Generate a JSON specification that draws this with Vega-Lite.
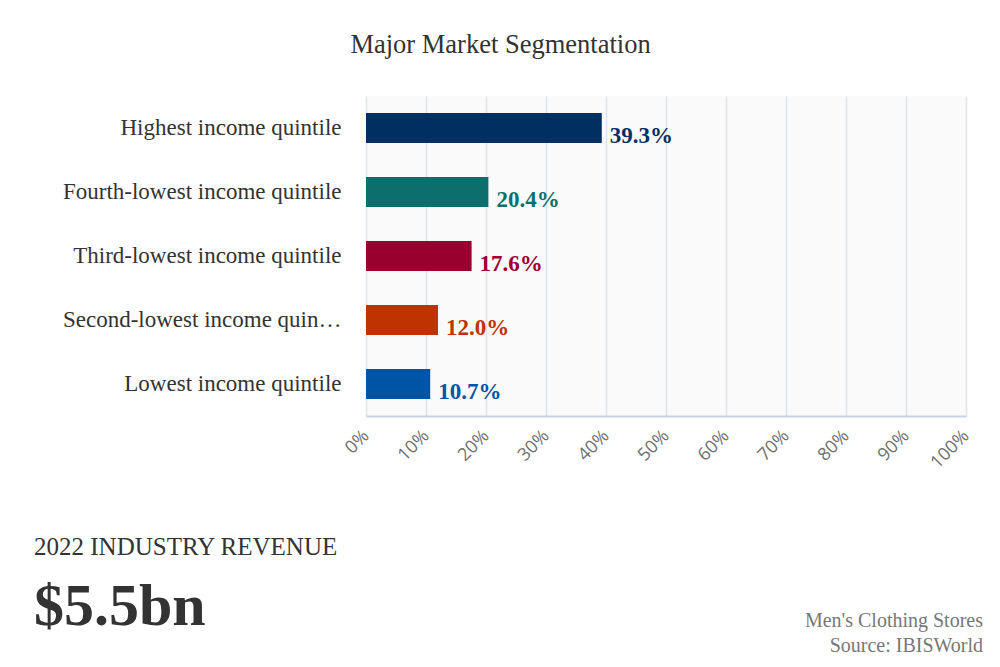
{
  "$schema": "https://vega.github.io/schema/vega-lite/v6.json",
  "background": "white",
  "padding": {"left": 34, "top": 31, "right": 17, "bottom": 10},
  "title": {
    "text": "Major Market Segmentation",
    "anchor": "middle",
    "dx": -8,
    "offset": 38,
    "font": "Liberation Serif",
    "fontSize": 26.5,
    "fontWeight": "normal",
    "color": "#333333"
  },
  "spacing": 63,
  "vconcat": [
    {
      "width": 600,
      "height": 320,
      "view": {"fill": "#fafafa", "stroke": null},
      "data": {
        "values": [
          {"segment": "Highest income quintile", "share": 0.393},
          {"segment": "Fourth-lowest income quintile", "share": 0.204},
          {"segment": "Third-lowest income quintile", "share": 0.176},
          {"segment": "Second-lowest income quintile", "share": 0.12},
          {"segment": "Lowest income quintile", "share": 0.107}
        ]
      },
      "encoding": {
        "y": {
          "field": "segment",
          "type": "nominal",
          "sort": null,
          "scale": {"paddingInner": 0.53, "paddingOuter": 0.265},
          "axis": {
            "title": null,
            "domain": false,
            "ticks": false,
            "grid": false,
            "labelPadding": 25,
            "labelLimit": 280,
            "labelFont": "Liberation Serif",
            "labelFontSize": 23,
            "labelColor": "#333333"
          }
        },
        "x": {
          "field": "share",
          "type": "quantitative",
          "scale": {"domain": [0, 1], "nice": false},
          "axis": {
            "title": null,
            "format": "%",
            "values": [0, 0.1, 0.2, 0.3, 0.4, 0.5, 0.6, 0.7, 0.8, 0.9, 1],
            "labelOverlap": false,
            "grid": true,
            "gridColor": "#dfe3ec",
            "gridWidth": 1.5,
            "domain": true,
            "domainColor": "#c9d3e6",
            "domainWidth": 2,
            "ticks": false,
            "labelAngle": -45,
            "labelAlign": "right",
            "labelBaseline": "middle",
            "labelPadding": 17,
            "labelFont": "Open Sans",
            "labelFontSize": 18,
            "labelColor": "#707070"
          }
        },
        "color": {
          "field": "segment",
          "type": "nominal",
          "scale": {
            "domain": ["Highest income quintile", "Fourth-lowest income quintile", "Third-lowest income quintile", "Second-lowest income quintile", "Lowest income quintile"],
            "range": ["#002f62", "#0b706d", "#990030", "#bf3300", "#0054a6"]
          },
          "legend": null
        }
      },
      "layer": [
        {"mark": {"type": "bar"}},
        {
          "mark": {
            "type": "text",
            "align": "left",
            "baseline": "middle",
            "dx": 8,
            "dy": 8,
            "font": "Liberation Serif",
            "fontSize": 23,
            "fontWeight": "bold"
          },
          "encoding": {"text": {"field": "share", "type": "quantitative", "format": ".1%"}}
        }
      ]
    },
    {
      "spacing": 0,
      "hconcat": [
        {
          "width": 1,
          "height": 1,
          "view": {"stroke": null},
          "data": {"values": []},
          "mark": {"type": "point"},
          "title": {
            "text": "2022 INDUSTRY REVENUE",
            "subtitle": "$5.5bn",
            "anchor": "start",
            "frame": "group",
            "dx": -332,
            "offset": 0,
            "font": "Liberation Serif",
            "fontSize": 25,
            "fontWeight": "normal",
            "color": "#333333",
            "subtitleFont": "Liberation Serif",
            "subtitleFontSize": 60,
            "subtitleFontWeight": "bold",
            "subtitleColor": "#333333",
            "subtitlePadding": 18
          }
        },
        {
          "width": 616,
          "height": 1,
          "view": {"stroke": null},
          "data": {"values": []},
          "mark": {"type": "point"},
          "title": {
            "text": "Men's Clothing Stores",
            "subtitle": "Source: IBISWorld",
            "anchor": "end",
            "frame": "group",
            "offset": -19,
            "font": "Liberation Serif",
            "fontSize": 20,
            "fontWeight": "normal",
            "color": "#777777",
            "subtitleFont": "Liberation Serif",
            "subtitleFontSize": 20,
            "subtitleColor": "#777777",
            "subtitlePadding": 5
          }
        }
      ]
    }
  ]
}
